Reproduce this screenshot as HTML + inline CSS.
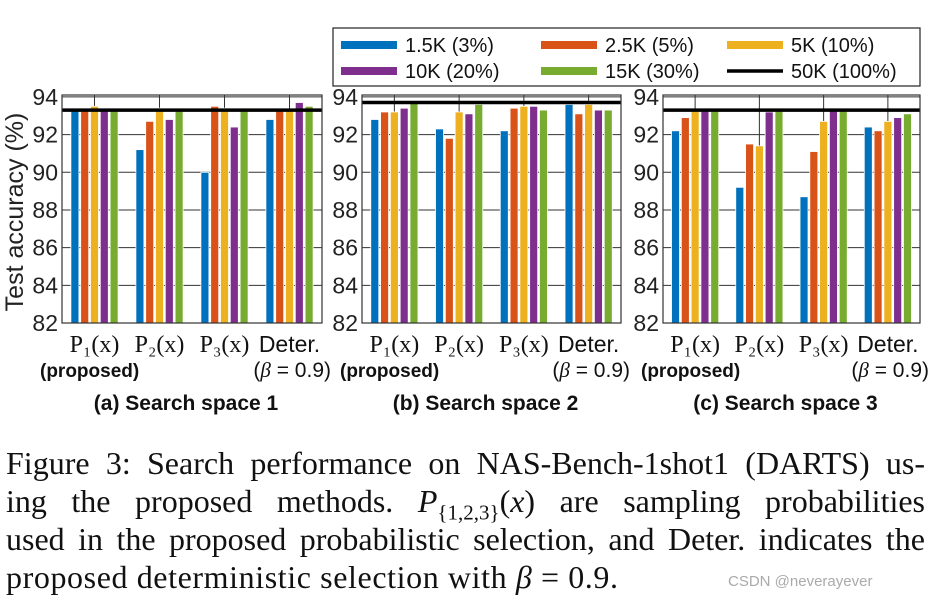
<!DOCTYPE html>
<html><head><meta charset="utf-8"><style>
html,body{margin:0;padding:0;background:#fff;width:934px;height:603px;overflow:hidden}
svg{display:block}
.cap{position:absolute;left:6px;width:919px;font-family:"Liberation Serif",serif;font-size:32px;color:#111;white-space:nowrap;text-align:justify;text-align-last:justify;line-height:34px}
</style></head><body>
<svg id="fig" width="934" height="603" style="position:absolute;left:0;top:0"></svg>
<div class="cap" style="top:446px">Figure 3: Search performance on NAS-Bench-1shot1 (DARTS) us-</div>
<div class="cap" style="top:484px">ing the proposed methods. <i>P</i><sub style="font-size:21px">{1,2,3}</sub>(<i>x</i>) are sampling probabilities</div>
<div class="cap" style="top:522px">used in the proposed probabilistic selection, and Deter. indicates the</div>
<div class="cap" style="top:560px;width:auto;text-align-last:auto;letter-spacing:0.6px">proposed deterministic selection with <i>β</i> = 0.9.</div>
<div style="position:absolute;left:728px;top:573px;font-family:'Liberation Sans',sans-serif;font-size:15px;color:#aaa">CSDN @neverayever</div>
<script>
const categories = ["P₁(x)","P₂(x)","P₃(x)","Deter."];
const seriesNames = ["1.5K (3%)","2.5K (5%)","5K (10%)","10K (20%)","15K (30%)"];
const yTicks = [82,84,86,88,90,92,94];
const space1 = [[93.4,91.2,90.0,92.8],[93.3,92.7,93.5,93.4],[93.5,93.4,93.4,93.3],[93.4,92.8,92.4,93.7],[93.4,93.3,93.3,93.5]];
const space2 = [[92.8,92.3,92.2,93.6],[93.2,91.8,93.4,93.1],[93.2,93.2,93.5,93.6],[93.4,93.1,93.5,93.3],[93.7,93.6,93.3,93.3]];
const space3 = [[92.2,89.2,88.7,92.4],[92.9,91.5,91.1,92.2],[93.3,91.4,92.7,92.7],[93.3,93.2,93.3,92.9],[93.3,93.3,93.3,93.1]];
const fullData = [93.3,93.7,93.3];
const titles = ["(a) Search space 1","(b) Search space 2","(c) Search space 3"];
const colors = ["#0072bd","#d95319","#edb120","#7e2f8e","#77ac30"];
const NS="http://www.w3.org/2000/svg";
const svg=document.getElementById('fig');
function mk(tag,attrs,parent){const e=document.createElementNS(NS,tag);for(const k in attrs)e.setAttribute(k,attrs[k]);(parent||svg).appendChild(e);return e;}
const panels=[{x0:62,x1:322,d:space1},{x0:362,x1:621,d:space2},{x0:663,x1:920,d:space3}];
const yT=95,yB=323,yMin=82,yMax=94.1;
function yS(v){return yB-(v-yMin)/(yMax-yMin)*(yB-yT);}
panels.forEach((p,pi)=>{
  const g=mk('g',{});
  
  
  const W=p.x1-p.x0;
  function xS(i){return p.x0+(i+0.5)/4*W;}
  yTicks.forEach(t=>{
    const gl=mk('line',{x1:p.x0,x2:p.x1,y1:yS(t),y2:yS(t),stroke:'#333','stroke-width':1},g);
    
    
    const tl=mk('text',{x:p.x0-4,y:yS(t)+8,'text-anchor':'end','font-family':'Liberation Sans, sans-serif','font-size':23,fill:'#222'},g);
    tl.textContent=t;
    
    
  });
  categories.forEach((c,i)=>{
    mk('line',{x1:xS(i),x2:xS(i),y1:yT,y2:yB,stroke:'#333','stroke-width':1},g);
    const isD=c==="Deter.";
    const tl=mk('text',{x:xS(i),y:352,'text-anchor':'middle','font-family':isD?'Liberation Sans, sans-serif':'Liberation Serif, serif','font-size':isD?23:24,fill:'#111'},g);
    tl.textContent=c;
    
    
    p.d.forEach((ser,si)=>{
      const cx=xS(i)+(si-2)*9.8;
      const v=ser[i];
      const b=mk('rect',{x:cx-4,y:yS(v),width:8,height:yB-yS(v),fill:colors[si],stroke:'#fff','stroke-width':0.8},g);
      
      
    });
  });
  const fl=mk('line',{x1:p.x0,x2:p.x1,y1:yS(fullData[pi]),y2:yS(fullData[pi]),stroke:'#000','stroke-width':3.5},g);
  
  
  mk('rect',{x:p.x0,y:yT,width:W,height:yB-yT,fill:'none',stroke:'#333','stroke-width':1.2},g);
  const pr=mk('text',{x:p.x0-22,y:377,'font-family':'Liberation Sans, sans-serif','font-size':19,'font-weight':'bold',fill:'#111'},g);
  pr.textContent='(proposed)';
  
  
  const be=mk('text',{x:p.x1+9,y:377,'text-anchor':'end','font-family':'Liberation Sans, sans-serif','font-size':21,fill:'#111'},g);
  be.innerHTML='(<tspan font-style="italic" font-family="Liberation Serif, serif">β</tspan> = 0.9)';
  
  
  const tt=mk('text',{x:(p.x0+p.x1)/2-6,y:410,'text-anchor':'middle','font-family':'Liberation Sans, sans-serif','font-size':21,'font-weight':'bold',fill:'#111'},g);
  tt.textContent=titles[pi];
  
  
});
const yl=mk('text',{x:0,y:0,transform:'translate(23,212) rotate(-90)','text-anchor':'middle','font-family':'Liberation Sans, sans-serif','font-size':25,fill:'#222'});
yl.textContent='Test accuracy (%)';


const lg=mk('g',{});


mk('rect',{x:333,y:28,width:587,height:58,fill:'#fff',stroke:'#222','stroke-width':1.2},lg);
const legNames=seriesNames.concat(["50K (100%)"]);
const legCols=colors.concat(["#000"]);
const lx=[341,541,727];
legNames.forEach((n,k)=>{
  const r=Math.floor(k/3),c=k%3,y=r?71:45;
  const sw=mk('line',{x1:lx[c],x2:lx[c]+56,y1:y,y2:y,stroke:legCols[k],'stroke-width':k===5?3.5:8},lg);
  
  
  const t=mk('text',{x:lx[c]+64,y:y+7,'font-family':'Liberation Sans, sans-serif','font-size':20,fill:'#111'},lg);
  t.textContent=n;
  
  
});
</script>
</body></html>
